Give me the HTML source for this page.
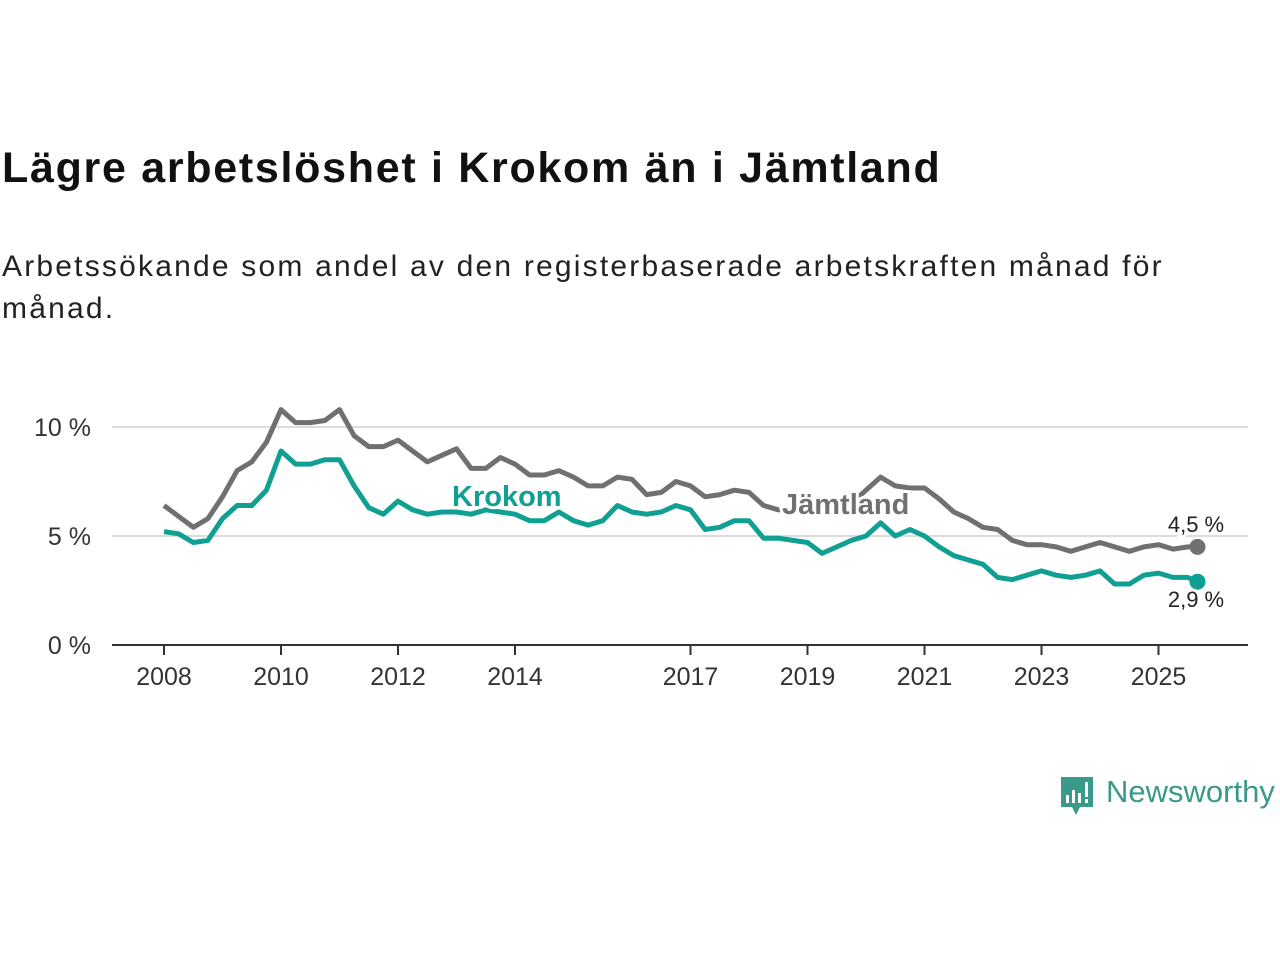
<!DOCTYPE html>
<html><head><meta charset="utf-8"><style>
body{margin:0;width:1280px;height:960px;background:#fff;font-family:"Liberation Sans",sans-serif;overflow:hidden;position:relative}
h1{position:absolute;left:2px;top:144px;margin:0;font-size:43px;font-weight:bold;color:#111;letter-spacing:1.7px;white-space:nowrap}
p.sub{position:absolute;left:2px;top:246px;margin:0;font-size:30px;line-height:42px;color:#222;width:1270px;letter-spacing:2.2px}
svg{position:absolute;left:0;top:0}
</style></head><body>
<h1>Lägre arbetslöshet i Krokom än i Jämtland</h1>
<p class="sub">Arbetssökande som andel av den registerbaserade arbetskraften månad för<br>månad.</p>
<svg id="chart" width="1280" height="960"></svg>
<script>
const yearTicks=[2008,2010,2012,2014,2017,2019,2021,2023,2025];
const yTicks=[0,5,10];
const jamtland=[6.4,5.9,5.4,5.8,6.8,8.0,8.4,9.3,10.8,10.2,10.2,10.3,10.8,9.6,9.1,9.1,9.4,8.9,8.4,8.7,9.0,8.1,8.1,8.6,8.3,7.8,7.8,8.0,7.7,7.3,7.3,7.7,7.6,6.9,7.0,7.5,7.3,6.8,6.9,7.1,7.0,6.4,6.2,6.2,6.1,6.2,6.3,6.5,7.1,7.7,7.3,7.2,7.2,6.7,6.1,5.8,5.4,5.3,4.8,4.6,4.6,4.5,4.3,4.5,4.7,4.5,4.3,4.5,4.6,4.4,4.5,4.5];
const krokom=[5.2,5.1,4.7,4.8,5.8,6.4,6.4,7.1,8.9,8.3,8.3,8.5,8.5,7.3,6.3,6.0,6.6,6.2,6.0,6.1,6.1,6.0,6.2,6.1,6.0,5.7,5.7,6.1,5.7,5.5,5.7,6.4,6.1,6.0,6.1,6.4,6.2,5.3,5.4,5.7,5.7,4.9,4.9,4.8,4.7,4.2,4.5,4.8,5.0,5.6,5.0,5.3,5.0,4.5,4.1,3.9,3.7,3.1,3.0,3.2,3.4,3.2,3.1,3.2,3.4,2.8,2.8,3.2,3.3,3.1,3.1,2.9];
const dates=jamtland.map((_,i)=>i<71?2008+i/4:2025+8/12);
const X=y=>164+(y-2008)*58.5, Y=v=>645-v*21.8;
const svg=document.getElementById('chart'),NS='http://www.w3.org/2000/svg';
function mk(t,a,txt){const e=document.createElementNS(NS,t);for(const k in a)e.setAttribute(k,a[k]);if(txt!=null)e.textContent=txt;svg.appendChild(e);return e;}
yTicks.forEach(v=>{
 if(v>0){const g=mk('line',{x1:112,x2:1248,y1:Y(v),y2:Y(v),stroke:'#dcdcdc','stroke-width':2});
 
 }
 const t=mk('text',{x:91,y:Y(v)+9,'text-anchor':'end','font-size':25,fill:'#333'},v+' %');
 
 
});
const ax=mk('line',{x1:112,x2:1248,y1:645,y2:645,stroke:'#333','stroke-width':2});


yearTicks.forEach(y=>{
 const l=mk('line',{x1:X(y),x2:X(y),y1:645,y2:655,stroke:'#333','stroke-width':2});
 
 
 const t=mk('text',{x:X(y),y:685,'text-anchor':'middle','font-size':25,fill:'#333'},y);
 
 
});
function line(arr,col,name){
 const d=arr.map((v,i)=>(i?'L':'M')+X(dates[i]).toFixed(1)+','+Y(v).toFixed(1)).join('');
 const p=mk('path',{d,fill:'none',stroke:col,'stroke-width':5,'stroke-linejoin':'round'});
 
 
 const n=arr.length-1;
 const c=mk('circle',{cx:X(dates[n]),cy:Y(arr[n]),r:8,fill:col});
 
 
}
line(jamtland,'#707072','jamtland');
line(krokom,'#10a093','krokom');
function lab(x,y,txt,col,size,w,name,anchor){
 const t=mk('text',{x,y,'font-size':size,'font-weight':w,fill:col,stroke:'#fff','stroke-width':6,'paint-order':'stroke','text-anchor':anchor||'start'},txt);
 
 
}
lab(452,506,'Krokom','#10a093',29,'bold','krokom-label');
lab(782,514,'Jämtland','#707072',29,'bold','jamtland-label');
lab(1196,532,'4,5 %','#222',22,'normal','jamtland-end-value','middle');
lab(1196,607,'2,9 %','#222',22,'normal','krokom-end-value','middle');
</script>
<svg width="1280" height="960" style="pointer-events:none">
 <path d="M1061 777h32v30h-13l-4 8-4-8h-11z" fill="#3a9a8a"/>
 <rect x="1066" y="795" width="3" height="8" fill="#fff"/><rect x="1072" y="790" width="3" height="13" fill="#fff"/><rect x="1078" y="793" width="3" height="10" fill="#fff"/><rect x="1085" y="782" width="3" height="15" fill="#fff"/><rect x="1085" y="799" width="3" height="4" fill="#fff"/>
 <text x="1106" y="802" font-size="31" fill="#3a9a8a" font-family="Liberation Sans">Newsworthy</text>
</svg>
</body></html>
